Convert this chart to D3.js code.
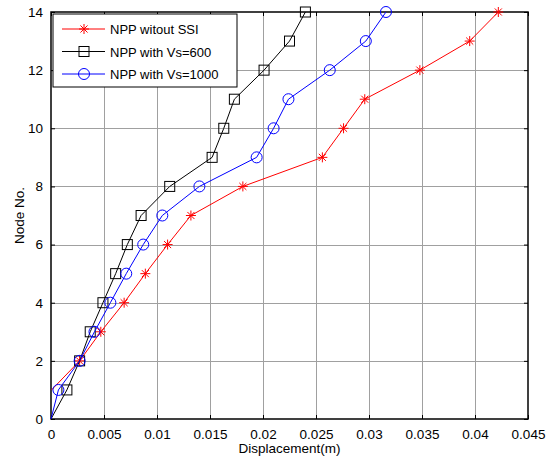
<!DOCTYPE html>
<html>
<head>
<meta charset="utf-8">
<script src="https://cdn.jsdelivr.net/npm/d3@7"></script>
<style>
body { margin: 0; background: #fff; }
svg text { font-family: "Liberation Sans", Arial, sans-serif; }
</style>
</head>
<body>
<div id="chartDiv"></div>
<script>
const nodes = [0, 1, 2, 3, 4, 5, 6, 7, 8, 9, 10, 11, 12, 13, 14];
// red series starts at node 1
const redNodes = nodes.slice(1);
const redVals = [0.00005, 0.0027, 0.0047, 0.0069, 0.0089, 0.0110, 0.0132, 0.0181, 0.0256, 0.0276, 0.0296, 0.0348, 0.0395, 0.0422];
const blackVals = [0, 0.0015, 0.0027, 0.0037, 0.0049, 0.0061, 0.0072, 0.0085, 0.0112, 0.0152, 0.0163, 0.0173, 0.0201, 0.0225, 0.0240];
const blueVals = [0, 0.0007, 0.0027, 0.0041, 0.0056, 0.0071, 0.0087, 0.0105, 0.0140, 0.0194, 0.0210, 0.0224, 0.0263, 0.0297, 0.0316];
const xTicks = [0, 0.005, 0.01, 0.015, 0.02, 0.025, 0.03, 0.035, 0.04, 0.045];
const yTicks = [0, 2, 4, 6, 8, 10, 12, 14];
const seriesNames = ["NPP witout SSI", "NPP with Vs=600", "NPP with Vs=1000"];

const width = 547, height = 465;
const margin = {top: 12, right: 19, bottom: 46, left: 51};

const x = d3.scaleLinear().domain([0, 0.045]).range([margin.left, width - margin.right]);
const y = d3.scaleLinear().domain([0, 14]).range([height - margin.bottom, margin.top]);

const series = [
    {name: seriesNames[0], color: "#ff0000", marker: "star", pts: redNodes.map((n, i) => [redVals[i], n])},
    {name: seriesNames[1], color: "#000000", marker: "square", pts: nodes.map((n, i) => [blackVals[i], n])},
    {name: seriesNames[2], color: "#0000ff", marker: "circle", pts: nodes.map((n, i) => [blueVals[i], n])}
];

const svg = d3.create("svg")
    .attr("width", width)
    .attr("height", height)
    .attr("viewBox", [0, 0, width, height]);

// grid
svg.append("g")
    .attr("stroke", "#a0a0a0")
    .attr("stroke-width", 1)
    .call(g => g.selectAll(".gx")
        .data(xTicks.slice(1, -1))
        .join("line")
        .attr("x1", d => Math.round(x(d)) + 0.5).attr("x2", d => Math.round(x(d)) + 0.5)
        .attr("y1", y(0)).attr("y2", y(14)))
    .call(g => g.selectAll(".gy")
        .data(yTicks.slice(1, -1))
        .join("line")
        .attr("class", "gy")
        .attr("y1", d => Math.round(y(d)) + 0.5).attr("y2", d => Math.round(y(d)) + 0.5)
        .attr("x1", x(0)).attr("x2", x(0.045)));

// axes
const fmt = d => d === 0 ? "0" : String(+d.toFixed(3));
svg.append("g")
    .attr("transform", `translate(0,${y(0)})`)
    .call(d3.axisBottom(x).tickValues(xTicks).tickFormat(fmt).tickSizeInner(-4).tickSizeOuter(0).tickPadding(10))
    .call(g => g.select(".domain").remove())
    .call(g => g.selectAll("text").attr("font-size", 13.5).attr("fill", "#000"));
svg.append("g")
    .attr("transform", `translate(${x(0)},0)`)
    .call(d3.axisLeft(y).tickValues(yTicks).tickSizeInner(-4).tickSizeOuter(0).tickPadding(8))
    .call(g => g.select(".domain").remove())
    .call(g => g.selectAll("text").attr("font-size", 13.5).attr("fill", "#000"));
svg.append("g")
    .attr("transform", `translate(0,${y(14)})`)
    .call(d3.axisTop(x).tickValues(xTicks).tickFormat("").tickSizeInner(-4).tickSizeOuter(0))
    .call(g => g.select(".domain").remove());
svg.append("g")
    .attr("transform", `translate(${x(0.045)},0)`)
    .call(d3.axisRight(y).tickValues(yTicks).tickFormat("").tickSizeInner(-4).tickSizeOuter(0))
    .call(g => g.select(".domain").remove());

svg.append("rect")
    .attr("x", x(0)).attr("y", y(14))
    .attr("width", x(0.045) - x(0)).attr("height", y(0) - y(14))
    .attr("fill", "none").attr("stroke", "#000").attr("stroke-width", 1.5);

// markers
function drawMarker(g, type, color, cx, cy) {
    if (type === "star") {
        const r = 5;
        [0, 45, 90, 135].forEach(a => {
            const t = a * Math.PI / 180;
            g.append("line")
                .attr("x1", cx - r * Math.cos(t)).attr("y1", cy - r * Math.sin(t))
                .attr("x2", cx + r * Math.cos(t)).attr("y2", cy + r * Math.sin(t))
                .attr("stroke", color).attr("stroke-width", 1);
        });
    } else if (type === "square") {
        g.append("rect")
            .attr("x", cx - 5).attr("y", cy - 5).attr("width", 10).attr("height", 10)
            .attr("fill", "none").attr("stroke", color).attr("stroke-width", 1);
    } else {
        g.append("circle")
            .attr("cx", cx).attr("cy", cy).attr("r", 5.5)
            .attr("fill", "none").attr("stroke", color).attr("stroke-width", 1);
    }
}

const line = d3.line().x(d => x(d[0])).y(d => y(d[1]));
const plot = svg.append("g");
series.forEach(s => {
    plot.append("path")
        .attr("d", line(s.pts))
        .attr("fill", "none")
        .attr("stroke", s.color)
        .attr("stroke-width", 1);
    const mg = plot.append("g");
    // points on the left axis carry no visible marker
    s.pts.filter(p => p[0] > 0.0002)
        .forEach(p => drawMarker(mg, s.marker, s.color, x(p[0]), y(p[1])));
});

// axis labels
svg.append("text")
    .attr("x", (x(0) + x(0.045)) / 2).attr("y", 453)
    .attr("text-anchor", "middle").attr("font-size", 13.5)
    .text("Displacement(m)");
svg.append("text")
    .attr("transform", `translate(24,${(y(0) + y(14)) / 2}) rotate(-90)`)
    .attr("text-anchor", "middle").attr("font-size", 13.5)
    .text("Node No.");

// legend
const lg = svg.append("g").attr("transform", `translate(${x(0) + 2},${y(14) + 2})`);
lg.append("rect")
    .attr("width", 184).attr("height", 73)
    .attr("fill", "#fff").attr("stroke", "#000").attr("stroke-width", 1);
series.forEach((s, i) => {
    const ly = 15 + i * 22.5;
    lg.append("line")
        .attr("x1", 9).attr("x2", 52).attr("y1", ly).attr("y2", ly)
        .attr("stroke", s.color).attr("stroke-width", 1);
    drawMarker(lg, s.marker, s.color, 31, ly);
    lg.append("text")
        .attr("x", 57).attr("y", ly + 5)
        .attr("font-size", 13)
        .text(s.name);
});

document.getElementById("chartDiv").appendChild(svg.node());
</script>
</body>
</html>
